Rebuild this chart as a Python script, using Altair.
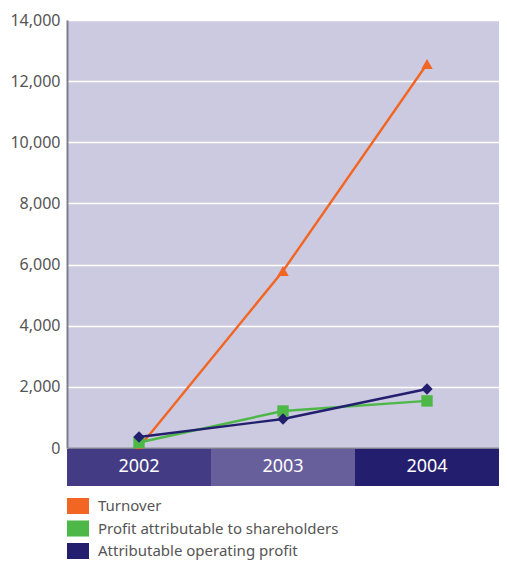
import altair as alt
import pandas as pd

years = ["2002", "2003", "2004"]
series = ["Turnover", "Profit attributable to shareholders", "Attributable operating profit"]
turnover = [20, 5790, 12560]
profit = [180, 1210, 1540]
operating = [360, 950, 1930]
colors = ["#F26522", "#4DB848", "#231F6E"]
shapes = ["triangle-up", "square", "diamond"]
band_colors = ["#433C84", "#675E9C", "#241E6E"]
y_ticks = [0, 2000, 4000, 6000, 8000, 10000, 12000, 14000]

rows = []
for s, vals in zip(series, [turnover, profit, operating]):
    for yr, v in zip(years, vals):
        rows.append({"year": yr, "series": s, "marker": s, "value": v})
df = pd.DataFrame(rows)
band_df = pd.DataFrame({"year": years, "fill": band_colors})

FONT = "Noto Sans"

xscale = alt.Scale(domain=years, paddingInner=0, paddingOuter=0)
xenc = alt.X("year:N", scale=xscale,
             axis=alt.Axis(title=None, labels=False, ticks=False, grid=False,
                           domainColor="#7F7E8E", domainWidth=2))
yenc = alt.Y("value:Q", scale=alt.Scale(domain=[0, 14000], nice=False),
             axis=alt.Axis(title=None, values=y_ticks, format=",.0f", labelFont=FONT,
                           labelFontSize=16, labelColor="#555555", ticks=False,
                           labelPadding=7, domainColor="#7F7E8E", domainWidth=2,
                           gridColor="white", gridWidth=1.5))
cscale = alt.Scale(domain=series, range=colors)
legend = alt.Legend(title=None, orient="none", legendX=0, legendY=475,
                    direction="vertical",
                    symbolType="M-1,-0.73L1,-0.73L1,0.73L-1,0.73Z",
                    symbolSize=484, symbolStrokeWidth=0, symbolOpacity=1,
                    labelFont=FONT, labelFontSize=15, labelColor="#555555",
                    labelOffset=9, rowPadding=2.5, padding=0, labelLimit=400)

lines = alt.Chart(df).mark_line(strokeWidth=2.4).encode(
    x=xenc, y=yenc,
    color=alt.Color("series:N", scale=cscale, legend=None, sort=series),
    detail="series:N",
)
points = alt.Chart(df).mark_point(filled=True, size=130, opacity=1).encode(
    x=xenc, y=yenc,
    color=alt.Color("series:N", scale=cscale, legend=None, sort=series),
    shape=alt.Shape("marker:N", scale=alt.Scale(domain=series, range=shapes), legend=None),
)
# zero-height rects that only carry the colour legend
legend_layer = alt.Chart(df).mark_rect().encode(
    x=alt.X("year:N", scale=xscale),
    y=alt.value(440), y2=alt.value(440),
    color=alt.Color("series:N", scale=cscale, legend=legend, sort=series),
)
bands = alt.Chart(band_df).mark_rect().encode(
    x=alt.X("year:N", scale=xscale),
    y=alt.value(429), y2=alt.value(466),
    fill=alt.Fill("fill:N", scale=None),
)
band_text = alt.Chart(band_df).mark_text(color="white", fontSize=18, font=FONT,
                                         baseline="middle").encode(
    x=alt.X("year:N", scale=xscale),
    y=alt.value(447),
    text="year:N",
)

chart = alt.layer(lines, points, legend_layer, bands, band_text).resolve_legend(
    color="independent"
).properties(
    width=432, height=428,
    padding={"left": 59, "top": 12, "right": 0, "bottom": 112},
    autosize=alt.AutoSizeParams(type="none"),
    background="white",
).configure_view(fill="#CCCAE0", stroke=None)

chart.save("out.html", embed_options={"renderer": "svg", "actions": False})
